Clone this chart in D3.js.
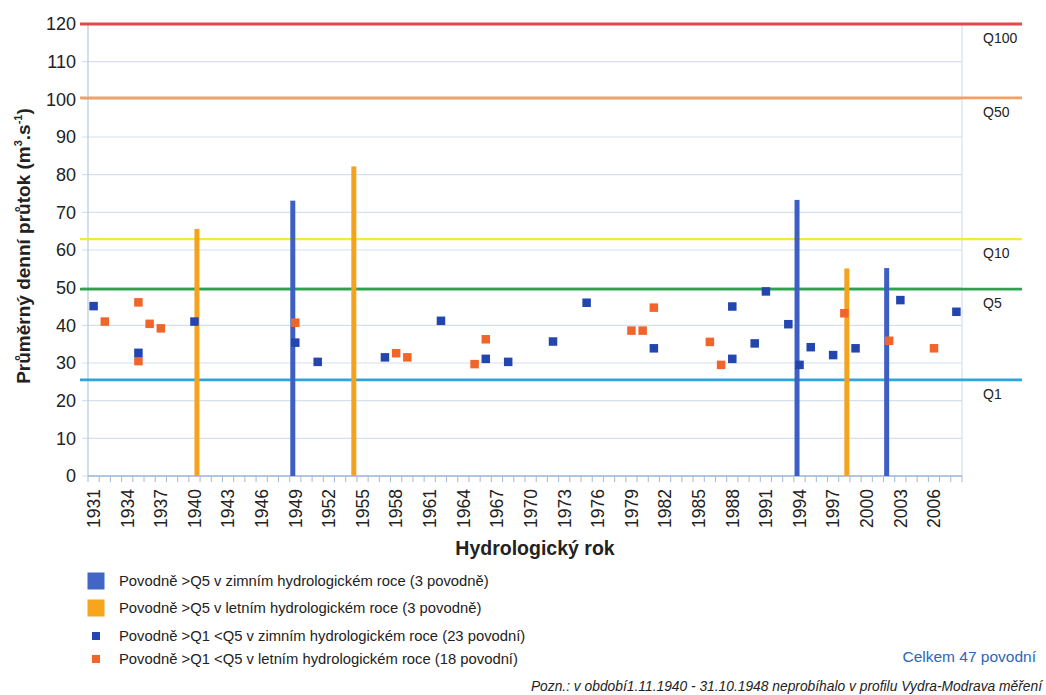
<!DOCTYPE html>
<html>
<head>
<meta charset="utf-8">
<script src="https://cdn.jsdelivr.net/npm/d3@7"></script>
<style>
    body { margin: 0; background: #fff; }
    text { font-family: Arial, "Liberation Sans", sans-serif; fill: #222; }
</style>
</head>
<body>
<div id="chart"></div>
<script>
// hydrological years on the category axis
var firstYear = 1931;
var lastYear = 2008;
var tickYears = [1931, 1934, 1937, 1940, 1943, 1946, 1949, 1952, 1955, 1958, 1961, 1964, 1967,
                 1970, 1973, 1976, 1979, 1982, 1985, 1988, 1991, 1994, 1997, 2000, 2003, 2006];
var yTicks = [0, 10, 20, 30, 40, 50, 60, 70, 80, 90, 100, 110, 120];

// floods > Q5 (columns)
var bigWinterYears = [1949, 1994, 2002];
var bigWinterFlow  = [73.1, 73.3, 55.2];
var bigSummerYears = [1940, 1954, 1998];
var bigSummerFlow  = [65.6, 82.2, 55.1];

// floods > Q1 < Q5 (markers)
var winterYears = [1931, 1935, 1940, 1949, 1951, 1957, 1962, 1966, 1968, 1972, 1975, 1981,
                   1988, 1988, 1990, 1991, 1993, 1994, 1995, 1997, 1999, 2003, 2008];
var winterFlow  = [45.1, 32.7, 41.0, 35.4, 30.3, 31.5, 41.2, 31.1, 30.3, 35.7, 46.0, 33.9,
                   31.1, 45.0, 35.2, 49.0, 40.3, 29.5, 34.2, 32.1, 33.9, 46.7, 43.6];
var summerYears = [1932, 1935, 1935, 1936, 1937, 1949, 1958, 1959, 1965, 1966, 1979, 1980,
                   1981, 1986, 1987, 1998, 2002, 2006];
var summerFlow  = [41.0, 46.1, 30.5, 40.4, 39.2, 40.7, 32.6, 31.5, 29.7, 36.3, 38.6, 38.6,
                   44.7, 35.6, 29.5, 43.2, 35.9, 33.9];

// N-year flow levels
var qLabels = ['Q100', 'Q50', 'Q10', 'Q5', 'Q1'];
var qValues = [120, 100.4, 62.9, 49.6, 25.5];
var qColors = ['#e5484a', '#f3a066', '#f2ea35', '#2ea24f', '#2aa6e0'];

var legendLabels = [
    'Povodně >Q5 v zimním hydrologickém roce (3 povodně)',
    'Povodně >Q5 v letním hydrologickém roce (3 povodně)',
    'Povodně >Q1 <Q5 v zimním hydrologickém roce (23 povodní)',
    'Povodně >Q1 <Q5 v letním hydrologickém roce (18 povodní)'
];

var width = 1046;
var height = 695;

var svg = d3.select('#chart')
    .append('svg')
        .attr('width', width)
        .attr('height', height);

var years = d3.range(firstYear, lastYear + 1);

var x = d3.scaleBand()
    .domain(years)
    .range([88, 962])
    .padding(0);

var y = d3.scaleLinear()
    .domain([0, 120])
    .range([476, 24]);

var bw = x.bandwidth();
var cx = d => x(d) + bw / 2;

// gridlines
svg.append('g')
    .selectAll('line')
    .data(yTicks.slice(0, -1))
    .enter()
    .append('line')
        .attr('x1', 82)
        .attr('x2', x.range()[1])
        .attr('y1', d => y(d))
        .attr('y2', d => y(d))
        .attr('stroke', '#d4e0ee')
        .attr('stroke-width', 1.2);

// left and right borders
svg.append('line')
    .attr('x1', 88).attr('x2', 88)
    .attr('y1', y(120)).attr('y2', y(0))
    .attr('stroke', '#b5c9de')
    .attr('stroke-width', 1.2);

svg.append('line')
    .attr('x1', x.range()[1]).attr('x2', x.range()[1])
    .attr('y1', y(120)).attr('y2', y(0))
    .attr('stroke', '#d4e0ee')
    .attr('stroke-width', 1.2);

// x axis line + a tick at every category boundary
svg.append('line')
    .attr('x1', 88).attr('x2', x.range()[1])
    .attr('y1', y(0)).attr('y2', y(0))
    .attr('stroke', '#9fbad6')
    .attr('stroke-width', 1.5);

svg.append('g')
    .selectAll('line')
    .data(years.concat([null]))
    .enter()
    .append('line')
        .attr('x1', d => d === null ? x.range()[1] : x(d))
        .attr('x2', d => d === null ? x.range()[1] : x(d))
        .attr('y1', y(0))
        .attr('y2', y(0) + 6)
        .attr('stroke', '#9fbad6')
        .attr('stroke-width', 1);

// y tick labels
svg.append('g')
    .selectAll('text')
    .data(yTicks)
    .enter()
    .append('text')
        .attr('x', 76)
        .attr('y', d => y(d))
        .attr('dy', '0.36em')
        .attr('text-anchor', 'end')
        .style('font-size', '18px')
        .text(d => d);

// x tick labels, rotated
svg.append('g')
    .selectAll('text')
    .data(tickYears)
    .enter()
    .append('text')
        .attr('transform', d => 'translate(' + cx(d) + ', 489) rotate(-90)')
        .attr('dy', '0.36em')
        .attr('text-anchor', 'end')
        .style('font-size', '17.5px')
        .text(d => d);

// axis titles
svg.append('text')
    .attr('transform', 'translate(23, 246) rotate(-90)')
    .attr('text-anchor', 'middle')
    .attr('dy', '0.36em')
    .style('font-size', '19px')
    .style('font-weight', 'bold')
    .html('Průměrný denní průtok (m<tspan dy="-8" font-size="11px">3</tspan><tspan dy="8">.s</tspan><tspan dy="-8" font-size="11px">-1</tspan><tspan dy="8">)</tspan>');

svg.append('text')
    .attr('x', 535)
    .attr('y', 548)
    .attr('dy', '0.36em')
    .attr('text-anchor', 'middle')
    .style('font-size', '19.5px')
    .style('font-weight', 'bold')
    .text('Hydrologický rok');

// Q lines
var qRows = qLabels.map((d, i) => ({ label: d, value: qValues[i], color: qColors[i] }));

svg.append('g')
    .selectAll('line')
    .data(qRows)
    .enter()
    .append('line')
        .attr('x1', 80)
        .attr('x2', 1022)
        .attr('y1', d => y(d.value))
        .attr('y2', d => y(d.value))
        .attr('stroke', d => d.color)
        .attr('stroke-width', d => d.label === 'Q10' ? 2.2 : 2.8);

svg.append('g')
    .selectAll('text')
    .data(qRows)
    .enter()
    .append('text')
        .attr('x', 983)
        .attr('y', d => y(d.value) + 14)
        .attr('dy', '0.36em')
        .style('font-size', '14px')
        .text(d => d.label);

// columns > Q5 (winter slightly left, summer slightly right in the category)
var bigWinter = bigWinterYears.map((d, i) => ({ year: d, flow: bigWinterFlow[i] }));
var bigSummer = bigSummerYears.map((d, i) => ({ year: d, flow: bigSummerFlow[i] }));
var barW = 5;

svg.append('g')
    .selectAll('rect')
    .data(bigWinter)
    .enter()
    .append('rect')
        .attr('x', d => cx(d.year) - 2.5 - barW / 2)
        .attr('y', d => y(d.flow))
        .attr('width', barW)
        .attr('height', d => y(0) - y(d.flow))
        .attr('fill', '#3d5fc4');

svg.append('g')
    .selectAll('rect')
    .data(bigSummer)
    .enter()
    .append('rect')
        .attr('x', d => cx(d.year) + 2.5 - barW / 2)
        .attr('y', d => y(d.flow))
        .attr('width', barW)
        .attr('height', d => y(0) - y(d.flow))
        .attr('fill', '#f5a21f');

// markers > Q1 < Q5
var winter = winterYears.map((d, i) => ({ year: d, flow: winterFlow[i] }));
var summer = summerYears.map((d, i) => ({ year: d, flow: summerFlow[i] }));
var m = 8.5;

svg.append('g')
    .selectAll('rect')
    .data(summer)
    .enter()
    .append('rect')
        .attr('x', d => cx(d.year) - m / 2)
        .attr('y', d => y(d.flow) - m / 2)
        .attr('width', m)
        .attr('height', m)
        .attr('fill', '#f1652a');

svg.append('g')
    .selectAll('rect')
    .data(winter)
    .enter()
    .append('rect')
        .attr('x', d => cx(d.year) - m / 2)
        .attr('y', d => y(d.flow) - m / 2)
        .attr('width', m)
        .attr('height', m)
        .attr('fill', '#2345b0');

// legend
var legendArray = [
    { label: legendLabels[0], color: '#4266c6', size: 17 },
    { label: legendLabels[1], color: '#f7a51c', size: 17 },
    { label: legendLabels[2], color: '#2345b0', size: 8 },
    { label: legendLabels[3], color: '#f1652a', size: 8 }
];
var legendY = [581, 608, 636, 659];

var legendRow = svg.append('g')
    .selectAll('g')
    .data(legendArray)
    .enter()
    .append('g')
        .attr('transform', (d, i) => 'translate(0, ' + legendY[i] + ')');

legendRow.append('rect')
    .attr('x', d => 96 - d.size / 2)
    .attr('y', d => -d.size / 2)
    .attr('width', d => d.size)
    .attr('height', d => d.size)
    .attr('fill', d => d.color);

legendRow.append('text')
    .attr('x', 119)
    .attr('dy', '0.36em')
    .style('font-size', '14.8px')
    .text(d => d.label);

svg.append('text')
    .attr('x', 1036)
    .attr('y', 656)
    .attr('dy', '0.36em')
    .attr('text-anchor', 'end')
    .style('font-size', '15.5px')
    .style('fill', '#2b66b8')
    .text('Celkem 47 povodní');

svg.append('text')
    .attr('x', 1042)
    .attr('y', 686)
    .attr('dy', '0.36em')
    .attr('text-anchor', 'end')
    .style('font-size', '13.8px')
    .style('font-style', 'italic')
    .text('Pozn.: v období1.11.1940 - 31.10.1948 neprobíhalo v profilu Vydra-Modrava měření');
</script>
</body>
</html>
